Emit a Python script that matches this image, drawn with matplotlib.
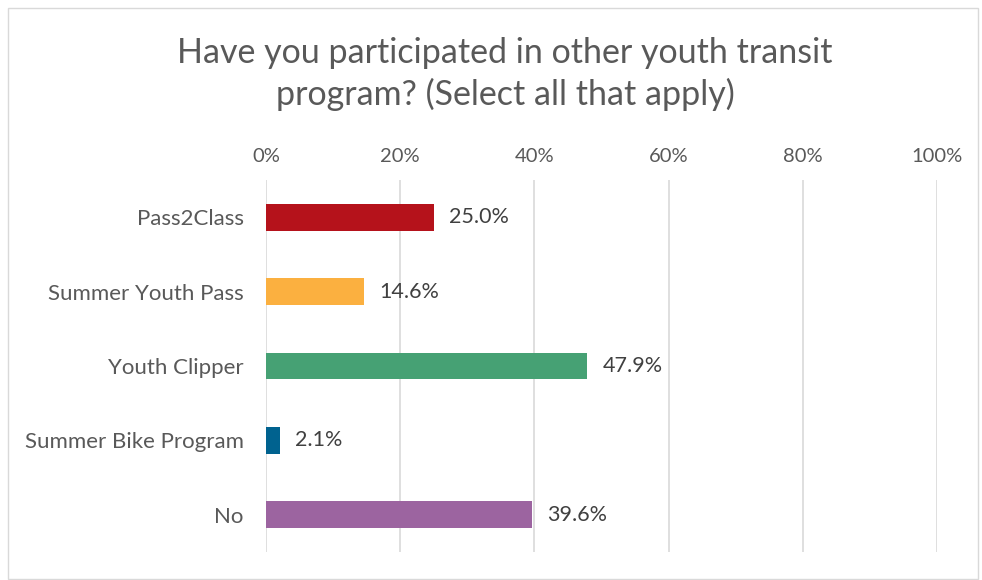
import matplotlib
matplotlib.use("Agg")
import matplotlib.pyplot as plt
from matplotlib.patches import Rectangle

categories = ["Pass2Class", "Summer Youth Pass", "Youth Clipper", "Summer Bike Program", "No"]
values = [25.0, 14.6, 47.9, 2.1, 39.6]
colors = ["#B5121B", "#FBB040", "#46A174", "#00628F", "#9C64A0"]
xticks = [0, 20, 40, 60, 80, 100]
xtick_labels = ["0%", "20%", "40%", "60%", "80%", "100%"]
title = "Have you participated in other youth transit\nprogram? (Select all that apply)"

plt.rcParams['font.family'] = ['Lato', 'DejaVu Sans']

fig = plt.figure(figsize=(9.82, 5.80), dpi=100)
ax = fig.add_axes([266/982, 1-552/580, (937-266)/982, (552-180)/580])

ypos = list(range(len(categories)))
ax.barh(ypos, values, height=0.36, color=colors, zorder=3)
for y, v in zip(ypos, values):
    ax.annotate(f"{v:.1f}%", (v, y), xytext=(11, 0), textcoords="offset points",
                va="center", ha="left", fontsize=15.5, color="#404040")

ax.set_xlim(0, 100)
ax.set_ylim(len(categories)-0.5, -0.5)
ax.set_yticks(ypos)
ax.set_yticklabels(categories, fontsize=16, color="#595959")
ax.set_xticks(xticks)
ax.set_xticklabels(xtick_labels, fontsize=14.5, color="#595959")
ax.xaxis.tick_top()
ax.tick_params(axis="both", length=0)
ax.tick_params(axis="x", pad=11)
ax.tick_params(axis="y", pad=16)
for s in ax.spines.values():
    s.set_visible(False)
ax.grid(axis="x", color="#D9D9D9", linewidth=1.2, zorder=0)
ax.set_axisbelow(True)

fig.text(505/982, 1-74/580, title, ha="center", va="center", fontsize=24.5,
         color="#595959", linespacing=1.3)

fig.patches.append(Rectangle((8/982, 0.002), (978-8)/982, 1-8/580-0.002, transform=fig.transFigure,
                             fill=False, edgecolor="#D9D9D9", linewidth=1))

fig.savefig("out.png", dpi=100)
